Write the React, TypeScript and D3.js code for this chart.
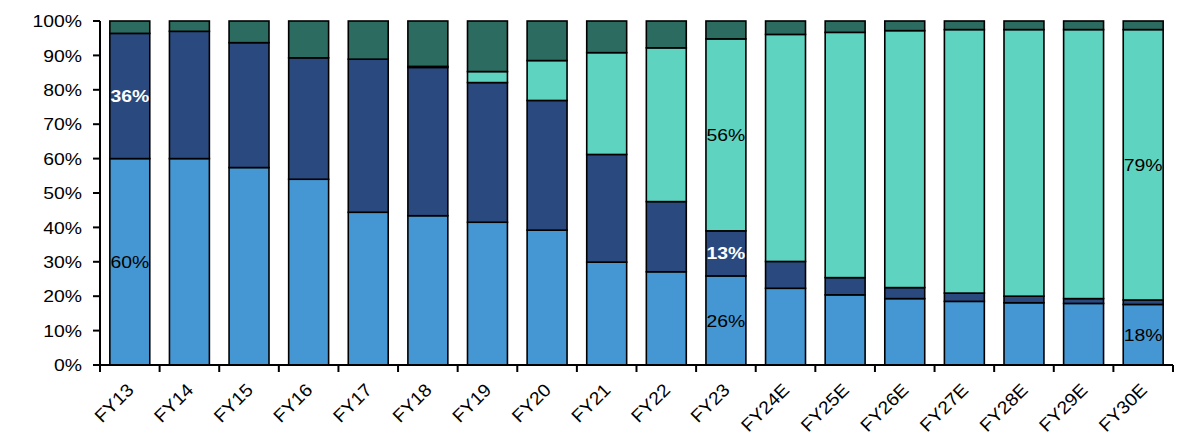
import React from "react";
import * as d3 from "d3";

const categories = ["FY13","FY14","FY15","FY16","FY17","FY18","FY19","FY20","FY21","FY22","FY23","FY24E","FY25E","FY26E","FY27E","FY28E","FY29E","FY30E"];
const seriesLightBlue = [60, 60, 57.4, 54, 44.4, 43.4, 41.5, 39.2, 29.9, 27.1, 25.9, 22.3, 20.4, 19.3, 18.5, 18.1, 17.9, 17.6];
const seriesNavy = [36.4, 37, 36.3, 35.3, 44.5, 43.1, 40.6, 37.7, 31.3, 20.4, 13.1, 7.8, 5, 3.2, 2.4, 1.9, 1.4, 1.3];
const seriesTeal = [0, 0, 0, 0, 0, 0.3, 3.2, 11.6, 29.6, 44.7, 55.8, 66, 71.3, 74.7, 76.6, 77.5, 78.2, 78.6];
const seriesGreen = [3.6, 3, 6.3, 10.7, 11.1, 13.2, 14.7, 11.5, 9.2, 7.8, 5.2, 3.9, 3.3, 2.8, 2.5, 2.5, 2.5, 2.5];
const yTicks = [0, 10, 20, 30, 40, 50, 60, 70, 80, 90, 100];
const colors = ["#4597D3", "#2A4A7F", "#5ED3C0", "#2C6B5F"];
const labels = [
  { cat: "FY13", s: 1, text: "36%", white: true },
  { cat: "FY13", s: 0, text: "60%", white: false },
  { cat: "FY23", s: 2, text: "56%", white: false },
  { cat: "FY23", s: 1, text: "13%", white: true },
  { cat: "FY23", s: 0, text: "26%", white: false },
  { cat: "FY30E", s: 2, text: "79%", white: false },
  { cat: "FY30E", s: 0, text: "18%", white: false },
];

const keys = ["a", "b", "c", "d"];
const rows = categories.map((c, i) => ({ cat: c, a: seriesLightBlue[i], b: seriesNavy[i], c: seriesTeal[i], d: seriesGreen[i] }));

export default function App() {
  const left = 100, right = 1173, top = 21, bottom = 365;
  const x = d3.scaleBand<string>().domain(categories).range([left, right]).paddingInner(0.33).paddingOuter(0.165);
  const y = d3.scaleLinear().domain([0, 100]).range([bottom, top]);
  const stack = d3.stack<any>().keys(keys)(rows);
  const font = "'Liberation Sans', Arial, Helvetica, sans-serif";
  const sx = 1.14;
  const step = x.step();
  const boundaries = d3.range(categories.length + 1).map((i) => left + i * step);

  return (
    <svg width={1200} height={446} style={{ position: "absolute", left: 0, top: 0, background: "#fff" }} fontFamily={font}>
      {stack.map((layer, si) => (
        <g key={si}>
          {layer.map((d, i) => {
            const h = y(d[0]) - y(d[1]);
            if (h <= 0) return null;
            return (
              <rect key={i} x={x(categories[i])} y={y(d[1])} width={x.bandwidth()} height={h}
                fill={colors[si]} stroke="#000" strokeWidth={1.6} />
            );
          })}
        </g>
      ))}
      {labels.map((l, i) => {
        const ci = categories.indexOf(l.cat);
        const seg = stack[l.s][ci];
        const cx = (x(l.cat) as number) + x.bandwidth() / 2;
        const cy = y((seg[0] + seg[1]) / 2);
        return (
          <text key={i} transform={`translate(${cx},${cy}) scale(${sx},1)`} textAnchor="middle" dy="0.36em"
            fontSize={17} fill={l.white ? "#fff" : "#000"} fontWeight={l.white ? "bold" : "normal"}>{l.text}</text>
        );
      })}
      <line x1={left} x2={left} y1={top} y2={bottom} stroke="#000" strokeWidth={2} />
      {yTicks.map((t) => (
        <g key={t}>
          <line x1={left - 7} x2={left} y1={y(t)} y2={y(t)} stroke="#000" strokeWidth={2} />
          <text transform={`translate(82,${y(t)}) scale(${sx},1)`} textAnchor="end" dy="0.36em" fontSize={17} fill="#000">{t}%</text>
        </g>
      ))}
      <line x1={left - 7} x2={right} y1={bottom} y2={bottom} stroke="#000" strokeWidth={2} />
      {boundaries.map((b, i) => (
        <line key={i} x1={b} x2={b} y1={bottom} y2={bottom + 7} stroke="#000" strokeWidth={2} />
      ))}
      {categories.map((c) => {
        const cx = (x(c) as number) + x.bandwidth() / 2;
        return (
          <text key={c} transform={`translate(${cx + 5},391) rotate(-45) scale(1.08,1)`} textAnchor="end" fontSize={18} fill="#000">{c}</text>
        );
      })}
    </svg>
  );
}
